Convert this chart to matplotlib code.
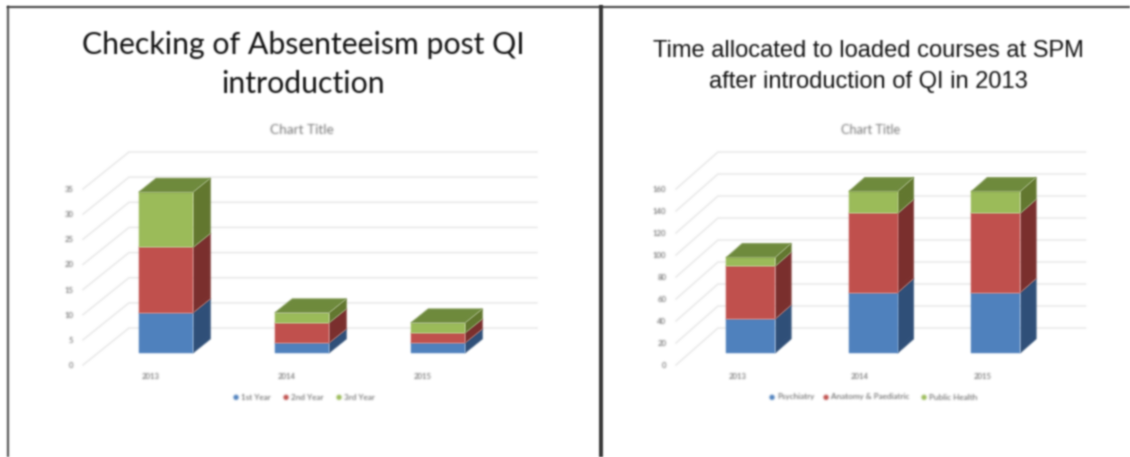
import numpy as np
import matplotlib
matplotlib.use("Agg")
import matplotlib.pyplot as plt
from matplotlib.patches import Polygon

W, H = 1130, 457

# Values
years = ["2013", "2014", "2015"]

left_title = "Checking of Absenteeism post QI\nintroduction"
left_series = ["1st Year", "2nd Year", "3rd Year"]
left_first = [8, 2, 2]
left_second = [13, 4, 2]
left_third = [11, 2, 2]
left_ticks = [0, 5, 10, 15, 20, 25, 30, 35]

right_title = "Time allocated to loaded courses at SPM\nafter introduction of QI in 2013"
right_series = ["Psychiatry", "Anatomy & Paediatric", "Public Health"]
right_psych = [31, 55, 55]
right_anat = [48, 72, 72]
right_public = [8, 20, 20]
right_ticks = [0, 20, 40, 60, 80, 100, 120, 140, 160]

front_colors = ["#4f81bd", "#c0504d", "#9bbb59"]
side_colors = ["#2f4f78", "#7a2f2d", "#62772f"]


def soften(sigma):
    """Gaussian blur usable as an agg_filter; blurs premultiplied colour so edges stay clean."""
    r = int(3 * sigma + 1)
    k = np.exp(-0.5 * (np.arange(-r, r + 1) / sigma) ** 2)
    k /= k.sum()

    def blur(a):
        for axis in (0, 1):
            a = np.apply_along_axis(lambda m: np.convolve(m, k, mode="same"), axis, a)
        return a

    def apply(img, dpi):
        pad = np.pad(img, ((r, r), (r, r), (0, 0))).astype(float)
        alpha = pad[..., 3:4]
        out_a = blur(pad[..., 3])[..., None]
        rgb = pad[..., :3] * alpha
        out_rgb = np.dstack([blur(rgb[..., c]) for c in range(3)])
        out_rgb = np.where(out_a > 1e-4, out_rgb / np.maximum(out_a, 1e-4), 0.0)
        return np.clip(np.dstack([out_rgb, out_a]), 0, 1), -r, -r
    return apply


fig = plt.figure(figsize=(W / 100, H / 100), dpi=100, facecolor="white")
soft = soften(0.9)
soft_small = soften(1.1)
soft_head = soften(0.9)


def px_axes(x0, x1, ytop, ybot):
    return fig.add_axes([x0 / W, 1 - ybot / H, (x1 - x0) / W, (ybot - ytop) / H])


def chart(rect, depth_px, series, names, ticks, dot_x):
    x0, x1, ytop, ybot = rect
    ax = px_axes(x0, x1, ytop, ybot)
    ax.set_xlim(-0.5, 2.5)
    ax.set_ylim(ticks[0], ticks[-1])
    ax.patch.set_visible(False)
    for s in ax.spines.values():
        s.set_visible(False)

    # Oblique depth: d=0 is the front of the floor, d=1 the back wall
    ddx = depth_px[0] / ((x1 - x0) / 3)
    ddy = depth_px[1] / ((ybot - ytop) / ticks[-1])

    def pt(x, y, d):
        return (x + d * ddx, y + d * ddy)

    for t in ticks:
        ax.plot(*zip(pt(-0.5, t, 0), pt(-0.5, t, 1), pt(2.5, t, 1)),
                color="#e8e8e8", lw=1.1, clip_on=False, zorder=1, agg_filter=soft)

    d0, d1 = 12 / 37, 26 / 37
    hw = 0.2
    for i in range(3):
        base = 0.0
        for j, vals in enumerate(series):
            top = base + vals[i]
            xl, xr = i - hw, i + hw
            faces = [
                ([pt(xr, base, d0), pt(xr, base, d1), pt(xr, top, d1), pt(xr, top, d0)], side_colors[j]),
                ([pt(xl, base, d0), pt(xr, base, d0), pt(xr, top, d0), pt(xl, top, d0)], front_colors[j]),
            ]
            for verts, c in faces:
                ax.add_patch(Polygon(verts, closed=True, fc=c, ec=c, lw=0.3,
                                     clip_on=False, zorder=3 + i, agg_filter=soft))
            base = top
        ax.add_patch(Polygon([pt(xl, base, d0), pt(xr, base, d0), pt(xr, base, d1), pt(xl, base, d1)],
                             closed=True, fc="#6e8a3c", ec="#6e8a3c", lw=0.3,
                             clip_on=False, zorder=3 + i, agg_filter=soft))

    ax.set_xticks(range(3), years)
    ax.set_yticks(ticks, [str(t) for t in ticks])
    ax.tick_params(axis="x", length=0, labelsize=5.6, labelcolor="#555555", pad=6)
    ax.tick_params(axis="y", length=0, labelsize=5.6, labelcolor="#555555", pad=7)
    for lab in ax.get_xticklabels() + ax.get_yticklabels():
        lab.set_agg_filter(soft_small)
        lab.set_family("Lato")

    # Small legend row under the plot
    for name, c, lx in zip(names, front_colors, dot_x):
        fig.text(lx / W, 1 - 397 / H, "\u25cf", color=c, fontsize=5, ha="center", va="center",
                 agg_filter=soft_small)
        fig.text((lx + 5) / W, 1 - 397 / H, name, color="#555555", fontsize=5.9, family="Lato",
                 ha="left", va="center", agg_filter=soft_small)


chart((83, 491, 189, 365), (46, 37), [left_first, left_second, left_third],
      left_series, left_ticks, [236, 286, 339])
chart((676, 1043.5, 189, 365), (42, 37), [right_psych, right_anat, right_public],
      right_series, right_ticks, [772, 826, 924])

# Headings
fig.text(303 / W, 1 - 64.5 / H, left_title, family="Lato", fontsize=21.8, color="#101010",
         ha="center", va="center", linespacing=1.47, agg_filter=soft_head)
fig.text(868 / W, 1 - 66.5 / H, right_title, family="Liberation Sans", fontsize=17, color="#101010",
         ha="center", va="center", linespacing=1.55, agg_filter=soft_head)
fig.text(302 / W, 1 - 130 / H, "Chart Title", family="Lato", fontsize=9.8, color="#777777",
         ha="center", va="center", agg_filter=soft_small)
fig.text(871 / W, 1 - 130 / H, "Chart Title", family="Lato", fontsize=9.2, color="#777777",
         ha="center", va="center", agg_filter=soft_small)

# Slide panel frame
frame = fig.add_axes([0, 0, 1, 1], zorder=10)
frame.set_xlim(0, W)
frame.set_ylim(H, 0)
frame.axis("off")
frame.plot([8, 8], [7, H], color="#555555", lw=1.6, agg_filter=soft)
frame.plot([8, W], [7, 7], color="#444444", lw=1.5, agg_filter=soft)
frame.plot([601, 601], [7, H], color="#333333", lw=2.8, agg_filter=soft)

fig.savefig("out.png", dpi=100, facecolor="white")
